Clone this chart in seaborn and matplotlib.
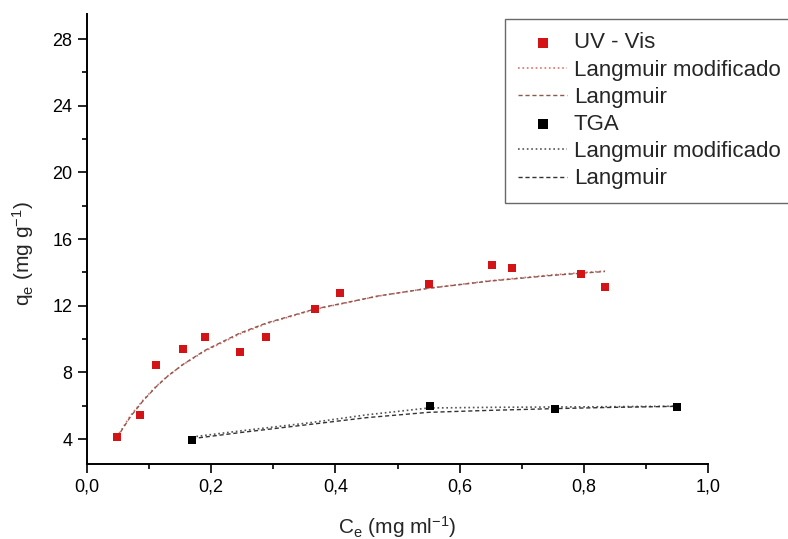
import matplotlib
matplotlib.use("Agg")
import matplotlib.pyplot as plt
import seaborn as sns
import pandas as pd
from matplotlib.ticker import MultipleLocator

# UV-Vis measurements
uv_c = [0.048, 0.086, 0.111, 0.154, 0.190, 0.246, 0.289, 0.367, 0.408,
        0.551, 0.652, 0.684, 0.796, 0.834]
uv_q = [4.12, 5.44, 8.46, 9.40, 10.12, 9.20, 10.12, 11.82, 12.76,
        13.32, 14.46, 14.24, 13.90, 13.14]

# UV-Vis fitted curves
uv_fit_c = [0.048, 0.07, 0.09, 0.111, 0.13, 0.154, 0.19, 0.246, 0.289,
            0.367, 0.47, 0.55, 0.65, 0.75, 0.834]
uv_mod_q = [4.12, 5.40, 6.32, 7.15, 7.78, 8.45, 9.28, 10.30, 10.92,
            11.78, 12.58, 13.05, 13.50, 13.85, 14.08]
uv_lang_q = [4.07, 5.34, 6.28, 7.12, 7.77, 8.46, 9.32, 10.35, 10.96,
             11.80, 12.59, 13.04, 13.48, 13.82, 14.05]

# TGA measurements
tga_c = [0.169, 0.552, 0.753, 0.950]
tga_q = [3.92, 5.96, 5.78, 5.94]

# TGA fitted curves
tga_fit_c = [0.169, 0.25, 0.36, 0.45, 0.55, 0.65, 0.75, 0.85, 0.95]
tga_mod_q = [4.12, 4.50, 4.98, 5.45, 5.86, 5.90, 5.92, 5.94, 5.97]
tga_lang_q = [4.02, 4.40, 4.88, 5.28, 5.60, 5.72, 5.82, 5.90, 5.96]

x_ticks = [0.0, 0.2, 0.4, 0.6, 0.8, 1.0]
x_ticklabels = ["0,0", "0,2", "0,4", "0,6", "0,8", "1,0"]
y_ticks = [4, 8, 12, 16, 20, 24, 28]

sns.set_theme(style="ticks")
plt.rcParams["font.family"] = ["Liberation Sans", "DejaVu Sans"]
plt.rcParams["mathtext.fontset"] = "custom"
plt.rcParams["mathtext.rm"] = "Liberation Sans"
plt.rcParams["mathtext.it"] = "Liberation Sans"

RED = "#d41317"
fig = plt.figure(figsize=(7.88, 5.39), dpi=100)
ax = fig.add_axes([87 / 788, 75 / 539, 621 / 788, 450 / 539])

uv = pd.DataFrame({"c": uv_c, "q": uv_q})
tga = pd.DataFrame({"c": tga_c, "q": tga_q})
uv_fit = pd.DataFrame({"c": uv_fit_c, "mod": uv_mod_q, "lang": uv_lang_q})
tga_fit = pd.DataFrame({"c": tga_fit_c, "mod": tga_mod_q, "lang": tga_lang_q})

sns.scatterplot(data=uv, x="c", y="q", ax=ax, marker="s", s=40, color=RED,
                edgecolor=RED, linewidth=0, label="UV - Vis", zorder=3)
sns.lineplot(data=uv_fit, x="c", y="mod", ax=ax, color="#e07070", lw=1.2,
             linestyle=":", label="Langmuir modificado", zorder=2)
sns.lineplot(data=uv_fit, x="c", y="lang", ax=ax, color="#8a5a50", lw=1.0,
             linestyle=(0, (3, 2)), label="Langmuir", zorder=2)
sns.scatterplot(data=tga, x="c", y="q", ax=ax, marker="s", s=40, color="black",
                edgecolor="black", linewidth=0, label="TGA", zorder=3)
sns.lineplot(data=tga_fit, x="c", y="mod", ax=ax, color="#555555", lw=1.2,
             linestyle=":", label="Langmuir modificado", zorder=2)
sns.lineplot(data=tga_fit, x="c", y="lang", ax=ax, color="#333333", lw=1.0,
             linestyle=(0, (3, 2)), label="Langmuir", zorder=2)

ax.set_xlim(0, 1.0)
ax.set_ylim(2.5, 29.5)
ax.set_xticks(x_ticks)
ax.set_xticklabels(x_ticklabels)
ax.set_yticks(y_ticks)
ax.xaxis.set_minor_locator(MultipleLocator(0.1))
ax.yaxis.set_minor_locator(MultipleLocator(2))

for side in ["top", "right"]:
    ax.spines[side].set_visible(False)
for side in ["left", "bottom"]:
    ax.spines[side].set_linewidth(1.4)
    ax.spines[side].set_color("black")

ax.tick_params(which="major", direction="out", length=6.5, width=1.2,
               labelsize=13, pad=4, colors="black")
ax.tick_params(which="minor", direction="out", length=3.5, width=1.2,
               colors="black")

ax.set_xlabel(r"C$_\mathrm{e}$ (mg ml$^{-1}$)", fontsize=15, labelpad=13)
ax.set_ylabel(r"q$_\mathrm{e}$ (mg g$^{-1}$)", fontsize=15)
ax.yaxis.set_label_coords(-0.082, 0.467)

leg = ax.legend(loc="upper left", bbox_to_anchor=(505 / 788, 1 - 19 / 539),
                bbox_transform=fig.transFigure, fontsize=16, frameon=True,
                fancybox=False, labelspacing=0.28, handlelength=2.2,
                handletextpad=0.3, borderpad=0.6, borderaxespad=0,
                markerscale=1.1)
leg.get_frame().set_edgecolor("#444444")
leg.get_frame().set_linewidth(1.0)

fig.savefig("out.png", dpi=100)
